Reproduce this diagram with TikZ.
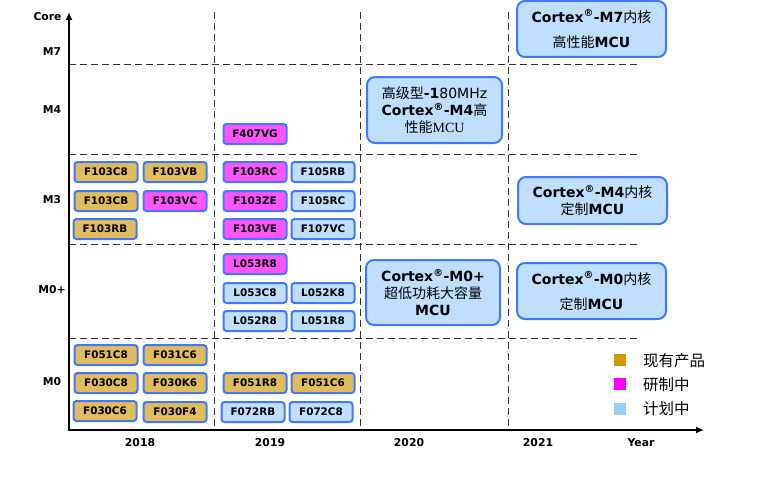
\documentclass[tikz,border=0pt]{standalone}
\usepackage{fontspec}
\setmainfont{DejaVu Sans}
\newfontfamily\cjk{Noto Sans CJK SC}
\newfontfamily\serifmcu{Liberation Serif}
\usetikzlibrary{arrows.meta}
\definecolor{chipgold}{HTML}{E0BD5C}
\definecolor{chipmag}{HTML}{FF55FF}
\definecolor{chipblue}{HTML}{C0DEFF}
\definecolor{chipborder}{HTML}{4477FF}
\definecolor{leggold}{HTML}{CC9900}
\definecolor{legmag}{HTML}{FF00FF}
\definecolor{legblue}{HTML}{99CCFF}
\definecolor{gridgray}{HTML}{333333}
\newcommand{\regmark}{\textsuperscript{®}}
\begin{document}
\begin{tikzpicture}[x=1pt,y=-1pt,
  chip/.style={draw=chipborder, line width=2pt, rounded corners=3pt,
    minimum width=63pt, minimum height=20pt, inner sep=0pt,
    font=\fontsize{10.4}{12}\selectfont\bfseries},
  gold/.style={chip, fill=chipgold},
  mag/.style={chip, fill=chipmag},
  plan/.style={chip, fill=chipblue},
  bigbox/.style={draw=chipborder, line width=2pt, rounded corners=8pt,
    fill=chipblue, inner sep=0pt, align=center,
    font=\fontsize{14}{17}\selectfont},
  axislabel/.style={font=\fontsize{10.8}{12}\selectfont\bfseries, inner sep=0pt},
  grid/.style={draw=gridgray, line width=0.9pt, dash pattern=on 7pt off 4pt},
  axis/.style={draw=black, line width=2pt, -{Latex[length=8pt,width=7pt]}},
  legsq/.style={minimum size=12pt, inner sep=0pt},
  legtext/.style={font=\cjk\fontsize{15.5}{17}\selectfont, anchor=west, inner sep=0pt}
]
\useasboundingbox (0,0) rectangle (762,487);

% coordinates
\coordinate (o) at (69,430);
\coordinate (ytop) at (69,12);
\coordinate (xend) at (704,430);

% grid lines
\foreach \yy/\nm in {64/a,154/b,244/c,338/d}{
  \coordinate (hl\nm) at (69,\yy);
  \coordinate (hr\nm) at (639,\yy);
  \draw[grid] (hl\nm) -- (hr\nm);
}
\foreach \xx/\nm in {214/a,360/b,508/c}{
  \coordinate (vt\nm) at (\xx,12);
  \coordinate (vb\nm) at (\xx,430);
  \draw[grid] (vt\nm) -- (vb\nm);
}

% axes
\coordinate (o2) at (69,431);
\draw[axis] (o2) -- (ytop);
\draw[axis] (o) -- (xend);

% axis labels
\node[axislabel] (lcore) at (47.5,17) {Core};
\node[axislabel] (lm7) at (52,52) {M7};
\node[axislabel] (lm4) at (52,110) {M4};
\node[axislabel] (lm3) at (52,200) {M3};
\node[axislabel] (lm0p) at (52,290) {M0+};
\node[axislabel] (lm0) at (52,382) {M0};
\node[axislabel] (y18) at (140,443) {2018};
\node[axislabel] (y19) at (270,443) {2019};
\node[axislabel] (y20) at (409,443) {2020};
\node[axislabel] (y21) at (538,443) {2021};
\node[axislabel] (yr) at (641,443) {Year};

% M4 row
\node[mag] (f407vg) at (255,134) {F407VG};

% M3 row
\node[gold] (f103c8) at (106,172) {F103C8};
\node[gold] (f103vb) at (175,172) {F103VB};
\node[gold] (f103cb) at (106,201) {F103CB};
\node[mag]  (f103vc) at (175,201) {F103VC};
\node[gold] (f103rb) at (105,229) {F103RB};
\node[mag]  (f103rc) at (255,172) {F103RC};
\node[plan] (f105rb) at (323,172) {F105RB};
\node[mag]  (f103ze) at (255,201) {F103ZE};
\node[plan] (f105rc) at (323,201) {F105RC};
\node[mag]  (f103ve) at (255,229) {F103VE};
\node[plan] (f107vc) at (323,229) {F107VC};

% M0+ row
\node[mag]  (l053r8) at (255,264) {L053R8};
\node[plan] (l053c8) at (255,293) {L053C8};
\node[plan] (l052k8) at (323,293) {L052K8};
\node[plan] (l052r8) at (255,321) {L052R8};
\node[plan] (l051r8) at (323,321) {L051R8};

% M0 row
\node[gold] (f051c8) at (106,355) {F051C8};
\node[gold] (f031c6) at (175,355) {F031C6};
\node[gold] (f030c8) at (106,383) {F030C8};
\node[gold] (f030k6) at (175,383) {F030K6};
\node[gold] (f030c6) at (105,411) {F030C6};
\node[gold] (f030f4) at (175,412) {F030F4};
\node[gold] (f051r8) at (255,383) {F051R8};
\node[gold] (f051c6) at (323,383) {F051C6};
\node[plan] (f072rb) at (253,412) {F072RB};
\node[plan] (f072c8) at (321,412) {F072C8};

% big boxes
\node[bigbox, minimum width=149pt, minimum height=56pt] (m7box) at (591.5,29)
  {\textbf{Cortex\regmark-M7}{\cjk 内核}\\[8pt]{\cjk 高性能}\textbf{MCU}};
\node[bigbox, minimum width=135pt, minimum height=66pt] (m4box) at (434.5,110)
  {{\cjk 高级型}\textbf{-1}80MHz\\\textbf{Cortex\regmark-M4}{\cjk 高}\\{\cjk 性能}{\serifmcu MCU}};
\node[bigbox, minimum width=149pt, minimum height=47pt] (m4cbox) at (592.5,200.5)
  {\textbf{Cortex\regmark-M4}{\cjk 内核}\\{\cjk 定制}\textbf{MCU}};
\node[bigbox, minimum width=134pt, minimum height=65pt] (m0pbox) at (433,292.5)
  {\textbf{Cortex\regmark-M0+}\\{\cjk 超低功耗大容量}\\\textbf{MCU}};
\node[bigbox, minimum width=149pt, minimum height=56pt] (m0box) at (591.5,291)
  {\textbf{Cortex\regmark-M0}{\cjk 内核}\\[8pt]{\cjk 定制}\textbf{MCU}};

% legend
\node[legsq, fill=leggold] (lg1) at (620,360) {};
\node[legsq, fill=legmag] (lg2) at (620,384) {};
\node[legsq, fill=legblue] (lg3) at (620,409) {};
\node[legtext] (lt1) at (643,361) {现有产品};
\node[legtext] (lt2) at (643,385) {研制中};
\node[legtext] (lt3) at (643,409) {计划中};
\end{tikzpicture}
\end{document}
